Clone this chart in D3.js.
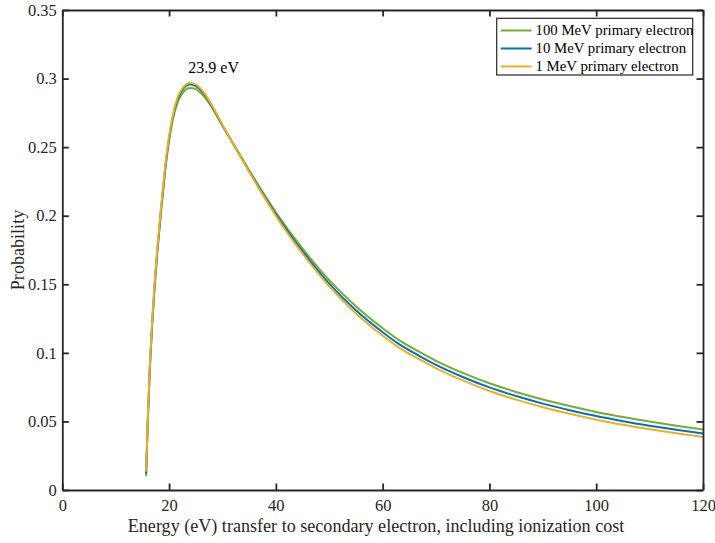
<!DOCTYPE html>
<html>
<head>
<meta charset="utf-8">
<script src="https://cdn.jsdelivr.net/npm/d3@7/dist/d3.min.js"></script>
<style>
  html, body { margin: 0; padding: 0; background: #fff; }
  svg { display: block; font-family: "Liberation Serif", "Times New Roman", serif; }
</style>
</head>
<body>
<svg id="chart" width="715" height="543"></svg>
<script>
// Energy transferred to the secondary electron (eV)
const energy = [15.7, 16.0, 16.4, 16.8, 17.3, 17.8, 18.5, 19.2, 19.9, 20.7, 21.5, 22.5, 23.9,
  25, 26.5, 28, 30, 32, 35, 37, 40, 45, 50, 55, 60, 63, 67, 70, 75, 80, 85, 90, 95,
  100, 105, 110, 115, 120];

// Probability for each primary electron energy
const p100MeV = [0.010, 0.048, 0.088, 0.118, 0.148, 0.173, 0.203, 0.230, 0.252, 0.270, 0.2815, 0.2893, 0.2931,
  0.2923, 0.2872, 0.2790, 0.2655, 0.2525, 0.2331, 0.2205, 0.2025, 0.1760, 0.1530, 0.1340, 0.1180, 0.1095, 0.1005, 0.0942, 0.0854, 0.0778, 0.0715, 0.0660, 0.0612,
  0.0569, 0.0532, 0.0499, 0.0469, 0.0442];
const p10MeV = [0.012, 0.050, 0.090, 0.120, 0.150, 0.175, 0.205, 0.232, 0.254, 0.272, 0.2840, 0.2918, 0.2956,
  0.2945, 0.2890, 0.2800, 0.2660, 0.2525, 0.2325, 0.2195, 0.2010, 0.1740, 0.1505, 0.1310, 0.1150, 0.1065, 0.0975, 0.0912, 0.0824, 0.0748, 0.0685, 0.0630, 0.0582,
  0.0539, 0.0502, 0.0469, 0.0439, 0.0412];
const p1MeV = [0.0135, 0.0515, 0.0915, 0.1215, 0.1515, 0.1765, 0.2065, 0.2335, 0.2555, 0.2733, 0.2853, 0.2930, 0.2968,
  0.2957, 0.2900, 0.2808, 0.2664, 0.2525, 0.2320, 0.2187, 0.1998, 0.1723, 0.1485, 0.1287, 0.1125, 0.1040, 0.0950, 0.0887, 0.0799, 0.0722, 0.0659, 0.0604, 0.0556,
  0.0513, 0.0476, 0.0443, 0.0413, 0.0386];

const seriesNames = ["100 MeV primary electron", "10 MeV primary electron", "1 MeV primary electron"];
const seriesColors = ["#77AC30", "#0072BD", "#EDB120"];
const seriesValues = [p100MeV, p10MeV, p1MeV];

const xTicks = [0, 20, 40, 60, 80, 100, 120];
const yTicks = [0, 0.05, 0.1, 0.15, 0.2, 0.25, 0.3, 0.35];

const peakEnergy = 23.9;
const peakLabel = "23.9 eV";

const xLabel = "Energy (eV) transfer to secondary electron, including ionization cost";
const yLabel = "Probability";

// Plot box
const box = { left: 62.3, right: 703, top: 10, bottom: 490 };
const axisColor = "#262626";
const tickLen = 6.5;
const tickFont = 16.5;
const labelFont = 18.1;

const svg = d3.select("#chart");
const x = d3.scaleLinear().domain([0, 120]).range([box.left, box.right]);
const y = d3.scaleLinear().domain([0, 0.35]).range([box.bottom, box.top]);

// Curves
const line = d3.line()
  .x(d => x(d[0]))
  .y(d => y(d[1]))
  .curve(d3.curveMonotoneX);

seriesValues.forEach((vals, i) => {
  svg.append("path")
    .datum(energy.map((e, k) => [e, vals[k]]))
    .attr("fill", "none")
    .attr("stroke", seriesColors[i])
    .attr("stroke-width", 2)
    .attr("stroke-linejoin", "round")
    .attr("d", line);
});

// Axes (inward ticks on all four sides)
const fmtY = d => d === 0 ? "0" : d3.format("~g")(d);
const gB = svg.append("g").attr("transform", `translate(0,${box.bottom})`)
  .call(d3.axisBottom(x).tickValues(xTicks).tickSize(-tickLen).tickPadding(9).tickSizeOuter(0));
const gT = svg.append("g").attr("transform", `translate(0,${box.top})`)
  .call(d3.axisTop(x).tickValues(xTicks).tickSize(-tickLen).tickFormat("").tickSizeOuter(0));
const gL = svg.append("g").attr("transform", `translate(${box.left},0)`)
  .call(d3.axisLeft(y).tickValues(yTicks).tickSize(-tickLen).tickPadding(5.5).tickFormat(fmtY).tickSizeOuter(0));
const gR = svg.append("g").attr("transform", `translate(${box.right},0)`)
  .call(d3.axisRight(y).tickValues(yTicks).tickSize(-tickLen).tickFormat("").tickSizeOuter(0));

[gB, gT, gL, gR].forEach(g => {
  g.select(".domain").attr("stroke", axisColor).attr("stroke-width", 1.8);
  g.selectAll(".tick line").attr("stroke", axisColor).attr("stroke-width", 1.8);
  g.selectAll("text").attr("fill", axisColor)
    .style("font-family", '"Liberation Serif", "Times New Roman", serif')
    .style("font-size", tickFont + "px");
});

// Axis titles
svg.append("text")
  .attr("x", (box.left + box.right) / 2 - 6.6)
  .attr("y", 531.5)
  .attr("text-anchor", "middle")
  .attr("fill", axisColor)
  .style("font-size", labelFont + "px")
  .text(xLabel);

svg.append("text")
  .attr("transform", `translate(24,${(box.top + box.bottom) / 2}) rotate(-90)`)
  .attr("text-anchor", "middle")
  .attr("fill", axisColor)
  .style("font-size", labelFont + "px")
  .text(yLabel);

// Peak annotation
const peakValue = d3.max(p1MeV);
svg.append("text")
  .attr("x", x(peakEnergy) - 1.6)
  .attr("y", y(peakValue) - 9.5)
  .attr("fill", "#000")
  .style("font-size", "16px")
  .text(peakLabel);

// Legend
const lg = svg.append("g");
lg.append("rect")
  .attr("x", 496.7).attr("y", 18.3)
  .attr("width", 196).attr("height", 56.7)
  .attr("fill", "#fff")
  .attr("stroke", axisColor)
  .attr("stroke-width", 1.2);

seriesNames.forEach((name, i) => {
  const cy = 30.5 + i * 18;
  lg.append("line")
    .attr("x1", 500.7).attr("x2", 531.7)
    .attr("y1", cy).attr("y2", cy)
    .attr("stroke", seriesColors[i])
    .attr("stroke-width", 2);
  lg.append("text")
    .attr("x", 535.5)
    .attr("y", cy + 4.8)
    .attr("fill", "#000")
    .style("font-size", "14.8px")
    .text(name);
});
</script>
</body>
</html>
